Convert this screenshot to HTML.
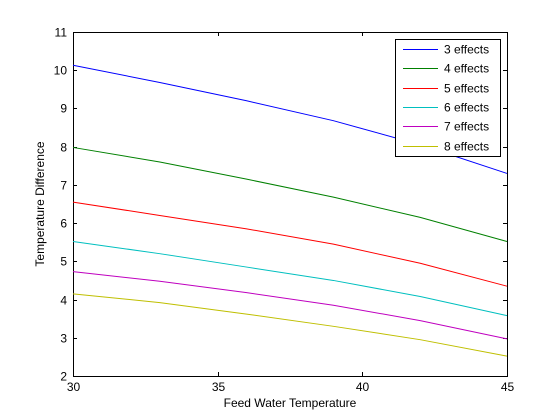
<!DOCTYPE html>
<html><head><meta charset="utf-8"><style>
html,body{margin:0;padding:0;background:#fff;}
svg{display:block;font-family:"Liberation Sans",sans-serif;}
</style></head><body>
<svg id="chart" width="560" height="420" viewBox="0 0 560 420">
<rect x="0" y="0" width="560" height="420" fill="#fff"/>
<g id="plot"></g>
</svg>
<script>
const xValues=[30,33,36,39,42,45];
const seriesNames=["3 effects","4 effects","5 effects","6 effects","7 effects","8 effects"];
const s3=[10.13,9.68,9.2,8.68,8.05,7.3];
const s4=[7.98,7.6,7.15,6.68,6.15,5.52];
const s5=[6.55,6.2,5.85,5.45,4.95,4.35];
const s6=[5.52,5.2,4.85,4.5,4.08,3.58];
const s7=[4.73,4.48,4.18,3.85,3.45,2.97];
const s8=[4.15,3.92,3.62,3.3,2.95,2.52];
const xTicks=[30,35,40,45];
const yTicks=[2,3,4,5,6,7,8,9,10,11];
const colors=["#0000ff","#008000","#ff0000","#00bfbf","#bf00bf","#bfbf00"];
const series=[s3,s4,s5,s6,s7,s8];
const L=73,R=507,T=32,B=376;
const xs=v=>L+(v-30)/(45-30)*(R-L);
const ys=v=>B-(v-2)/(11-2)*(B-T);
const NS="http://www.w3.org/2000/svg";
const g=document.getElementById('plot');
function el(t,a,txt){const e=document.createElementNS(NS,t);for(const k in a)e.setAttribute(k,a[k]);if(txt!=null)e.textContent=txt;g.appendChild(e);return e;}
let e=el('rect',{x:L+0.5,y:T+0.5,width:R-L,height:B-T,fill:'#fff',stroke:'#000','stroke-width':1,'shape-rendering':'crispEdges'});


xTicks.forEach(v=>{const x=Math.round(xs(v))+0.5;
 let t=el('line',{x1:x,x2:x,y1:B,y2:B-4,stroke:'#000','shape-rendering':'crispEdges'});
 t=el('line',{x1:x,x2:x,y1:T,y2:T+4,stroke:'#000','shape-rendering':'crispEdges'});
 t=el('text',{x:x,y:B+15,'font-size':12,'text-anchor':'middle'},v);});
yTicks.forEach(v=>{const y=Math.round(ys(v))+0.5;
 let t=el('line',{x1:L,x2:L+4,y1:y,y2:y,stroke:'#000','shape-rendering':'crispEdges'});
 t=el('line',{x1:R,x2:R-4,y1:y,y2:y,stroke:'#000','shape-rendering':'crispEdges'});
 t=el('text',{x:L-6,y:y+4,'font-size':12,'text-anchor':'end'},v);});
series.forEach((s,i)=>{
 const p=el('polyline',{points:s.map((v,j)=>xs(xValues[j])+','+ys(v)).join(' '),fill:'none',stroke:colors[i],'stroke-width':1});
 
 
});
let t=el('text',{x:(L+R)/2,y:407,'font-size':12,'text-anchor':'middle'},'Feed Water Temperature');

t=el('text',{x:0,y:0,'font-size':12,'text-anchor':'middle',transform:'translate(44,'+((T+B)/2)+') rotate(-90)'},'Temperature Difference');

const lg=el('rect',{x:395.5,y:39.5,width:105,height:117,fill:'#fff',stroke:'#000','shape-rendering':'crispEdges'});

seriesNames.forEach((n,i)=>{const y=Math.round(49+i*19.3)+0.5;
 let l=el('line',{x1:403,x2:438,y1:y,y2:y,stroke:colors[i],'shape-rendering':'crispEdges'});
 l=el('text',{x:444,y:y+4,'font-size':12},n);});
</script>
</body></html>
